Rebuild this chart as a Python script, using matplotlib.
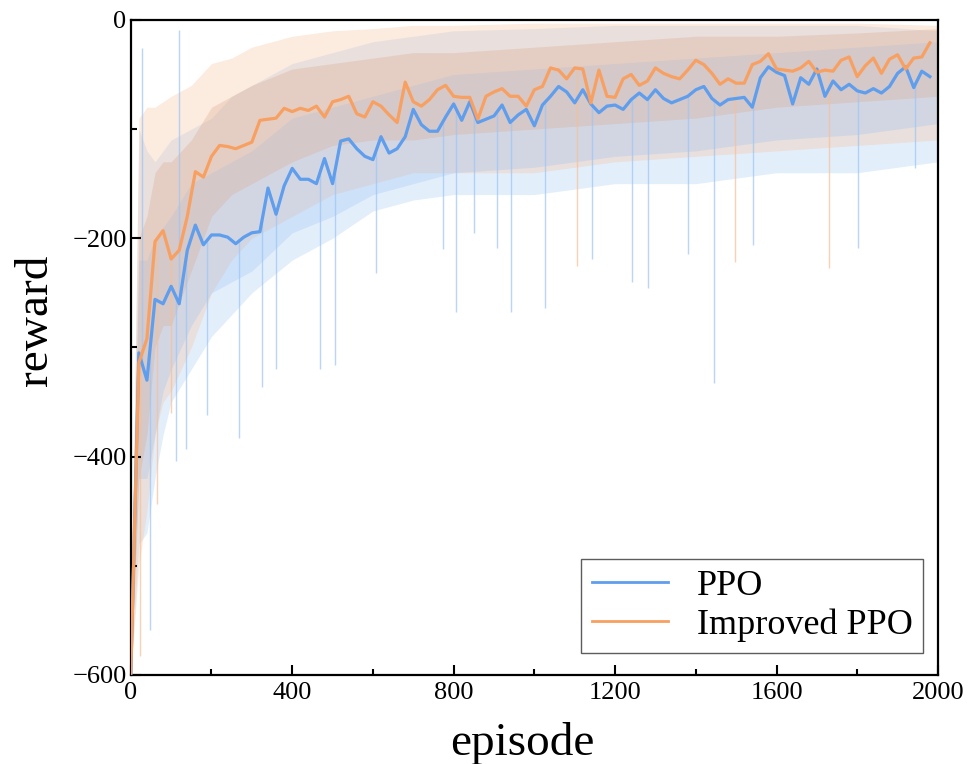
import matplotlib

matplotlib.use("Agg")
import matplotlib.pyplot as plt
from matplotlib.ticker import MultipleLocator
import numpy as np

# smoothed curves, one point every 20 episodes
episodes = np.arange(0, 2000, 20)
ppo = [
    -600, -305, -330, -256, -260, -244, -260, -211, -188, -206,
    -197, -197, -199, -205, -199, -195, -194, -154, -178, -152,
    -136, -146, -146, -150, -127, -150, -111, -109, -118, -125,
    -128, -107, -122, -118, -107, -82, -96, -102, -102, -89,
    -77, -92, -75, -94, -91, -88, -78, -94, -87, -82,
    -97, -78, -70, -61, -66, -76, -64, -77, -85, -79,
    -78, -82, -73, -67, -73, -64, -72, -76, -73, -70,
    -64, -61, -72, -78, -73, -72, -71, -80, -53, -43,
    -48, -51, -77, -53, -59, -45, -70, -56, -64, -59,
    -65, -67, -63, -67, -61, -49, -43, -62, -47, -52,
]
improved = [
    -598, -314, -292, -203, -193, -219, -211, -180, -139, -144,
    -125, -115, -116, -118, -115, -112, -92, -91, -90, -81,
    -84, -81, -83, -79, -89, -75, -73, -70, -86, -89,
    -75, -79, -87, -94, -57, -75, -79, -73, -64, -60,
    -70, -71, -71, -91, -70, -66, -63, -70, -70, -79,
    -64, -61, -44, -46, -54, -44, -45, -76, -46, -70,
    -71, -54, -50, -60, -56, -44, -49, -52, -54, -46,
    -37, -41, -49, -59, -54, -58, -58, -41, -38, -31,
    -45, -46, -47, -44, -38, -48, -46, -47, -37, -34,
    -52, -42, -35, -49, -36, -32, -45, -35, -34, -21,
]

# spread of the raw per-episode rewards: outer (sparse) and inner (dense) edges
band_ep = [0, 20, 40, 60, 80, 100, 150, 200, 250, 300, 400, 500, 600, 700, 800, 1000, 1200, 1400, 1600, 1800, 2000]
ppo_hi = [-590, -100, -120, -130, -120, -110, -100, -90, -70, -60, -40, -30, -20, -15, -10, -8, -5, -5, -5, -5, -10]
ppo_lo = [-600, -480, -470, -420, -380, -350, -320, -290, -270, -250, -220, -200, -175, -165, -160, -160, -150, -150, -140, -140, -130]
imp_hi = [-590, -90, -80, -80, -75, -70, -60, -40, -35, -25, -15, -10, -8, -5, -5, -3, -3, -3, -3, -3, -5]
imp_lo = [-600, -500, -450, -380, -350, -340, -300, -250, -220, -200, -180, -160, -150, -140, -140, -140, -130, -125, -120, -115, -110]
ppo_in_hi = [-590, -220, -220, -200, -190, -180, -150, -140, -130, -120, -90, -80, -70, -60, -50, -45, -40, -35, -30, -25, -20]
ppo_in_lo = [-600, -420, -420, -380, -340, -320, -280, -250, -240, -230, -195, -180, -160, -150, -140, -135, -125, -120, -110, -105, -95]
imp_in_hi = [-590, -200, -180, -140, -130, -130, -110, -80, -70, -60, -45, -40, -35, -30, -30, -25, -20, -15, -15, -12, -8]
imp_in_lo = [-600, -420, -380, -300, -280, -280, -230, -180, -160, -150, -130, -115, -110, -110, -105, -100, -95, -90, -80, -75, -70]

# isolated outlier episodes
ppo_spike_ep = [29, 48, 113, 120, 138, 190, 268, 326, 360, 468, 505, 608, 774, 806, 851, 907, 942, 1027, 1142, 1241, 1281, 1381, 1446, 1541, 1803, 1944]
ppo_spike_val = [-26, -559, -404, -9, -393, -362, -383, -336, -320, -320, -316, -232, -210, -268, -195, -209, -268, -264, -219, -240, -246, -214, -333, -206, -209, -136]
imp_spike_ep = [23, 64, 100, 1105, 1498, 1729]
imp_spike_val = [-583, -443, -360, -225, -222, -227]

BLUE = "#5f9ded"
ORANGE = "#f8a062"
BLUE_RAW = "#9dc4f4"
ORANGE_RAW = "#f7bf96"

plt.rcParams["font.family"] = ["Liberation Serif", "DejaVu Serif"]

fig = plt.figure(figsize=(9.76, 7.64), dpi=100)
ax = fig.add_axes([0.134, 0.1165, 0.827, 0.8575])

ax.fill_between(band_ep, ppo_lo, ppo_hi, color=BLUE_RAW, alpha=0.28, linewidth=0, zorder=1)
ax.fill_between(band_ep, imp_lo, imp_hi, color=ORANGE_RAW, alpha=0.3, linewidth=0, zorder=1)
ax.fill_between(band_ep, ppo_in_lo, ppo_in_hi, color=BLUE_RAW, alpha=0.3, linewidth=0, zorder=1)
ax.fill_between(band_ep, imp_in_lo, imp_in_hi, color="#d9a88a", alpha=0.3, linewidth=0, zorder=1)

ppo_base = np.interp(ppo_spike_ep, episodes, ppo)
ax.vlines(ppo_spike_ep, ppo_spike_val, ppo_base, color=BLUE_RAW, linewidth=1.0, alpha=0.7, zorder=1)
imp_base = np.interp(imp_spike_ep, episodes, improved)
ax.vlines(imp_spike_ep, imp_spike_val, imp_base, color=ORANGE_RAW, linewidth=1.0, alpha=0.7, zorder=1)

ax.plot(episodes, ppo, color=BLUE, linewidth=2.3, label="PPO", zorder=3)
ax.plot(episodes, improved, color=ORANGE, linewidth=2.3, label="Improved PPO", zorder=4)

ax.set_xlim(0, 2000)
ax.set_ylim(-600, 0)
ax.xaxis.set_major_locator(MultipleLocator(400))
ax.xaxis.set_minor_locator(MultipleLocator(200))
ax.yaxis.set_major_locator(MultipleLocator(200))
ax.yaxis.set_minor_locator(MultipleLocator(100))
ax.tick_params(which="both", direction="in", width=1.5)
ax.tick_params(which="major", length=7)
ax.tick_params(which="minor", length=4)
ax.tick_params(axis="x", labelsize=19, pad=5)
ax.tick_params(axis="y", labelsize=19, pad=3)
for sp in ax.spines.values():
    sp.set_linewidth(1.6)

ax.set_xlabel("episode", fontsize=34)
ax.set_ylabel("reward", fontsize=34)
ax.xaxis.set_label_coords(0.485, -0.072)
ax.yaxis.set_label_coords(-0.092, 0.542)

leg = ax.legend(
    loc="lower right",
    bbox_to_anchor=(0.982, 0.034),
    fontsize=26,
    frameon=True,
    fancybox=False,
    edgecolor="#333333",
    handlelength=2.1,
    borderpad=0.3,
    labelspacing=0.15,
    handletextpad=0.8,
    borderaxespad=0,
)
leg.get_frame().set_linewidth(1.0)
for line in leg.get_lines():
    line.set_linewidth(2.0)

fig.savefig("out.png", dpi=100)
